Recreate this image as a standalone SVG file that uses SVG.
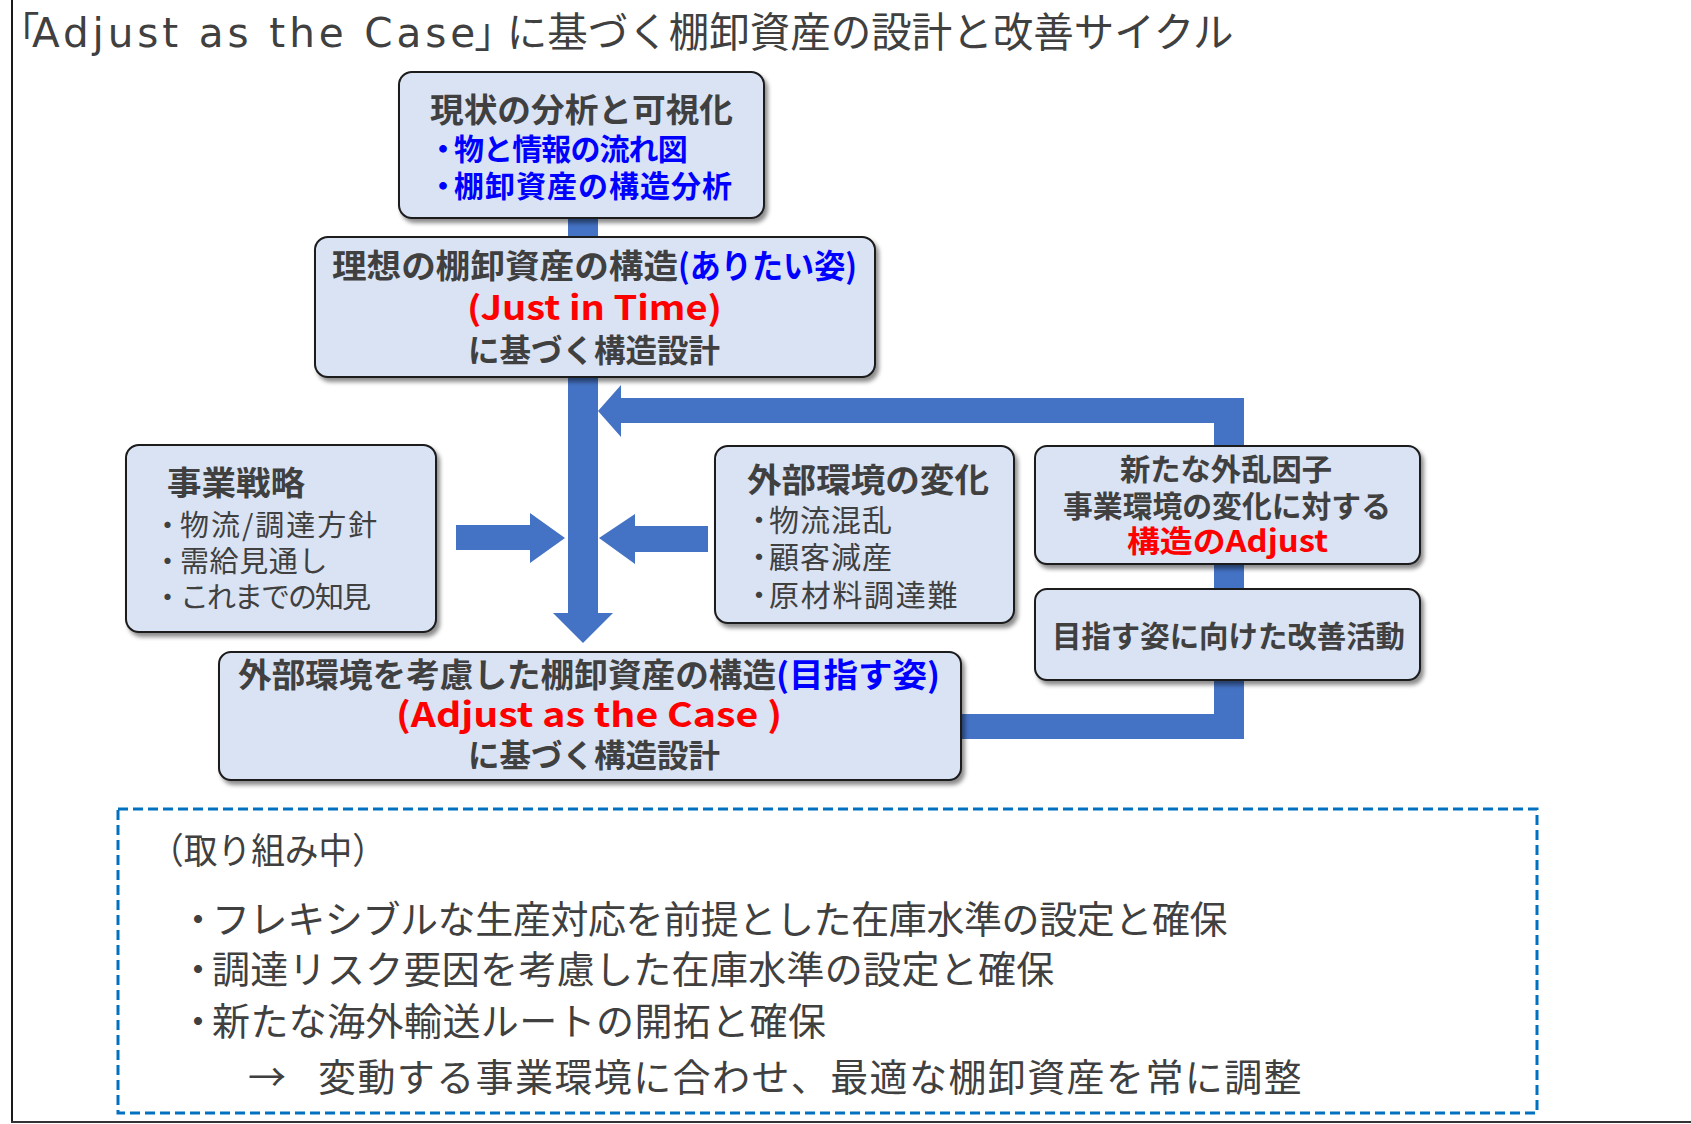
<svg xmlns="http://www.w3.org/2000/svg" width="1691" height="1124" viewBox="0 0 1691 1124">
<style>
  .box { fill: #DAE3F3; stroke: #1a1a1a; stroke-width: 2; filter: url(#sh); }
  .t { font-family: "Noto Sans CJK JP", "Noto Sans", sans-serif; fill: #404040; }
  .ttl { font-family: "DejaVu Sans", "Noto Sans CJK JP", sans-serif; fill: #404040; }
  .b { font-weight: bold; }
  .blue { fill: #0000FF; }
  .red { fill: #FF0000; }
  .bar { fill: #4472C4; }
</style>
<defs>
  <filter id="sh" x="-10%" y="-10%" width="125%" height="130%">
    <feDropShadow dx="3" dy="4" stdDeviation="2" flood-color="#000" flood-opacity="0.45"/>
  </filter>
</defs>
<rect x="0" y="0" width="1691" height="1124" fill="#fff"/>
<line x1="12" y1="0" x2="12" y2="1123" stroke="#1a1a1a" stroke-width="2"/>
<line x1="11" y1="1122" x2="1691" y2="1122" stroke="#333" stroke-width="2"/>

<text class="ttl" x="-1" y="47" font-size="40.5" dx="0 -7.5 3.9 3.9 3.9 3.9 3.9 3.9 3.9 3.9 3.9 3.9 3.9 3.9 3.9 3.9 3.9 3.9 3.9 -1 -8">「Adjust as the Case」に基づく棚卸資産の設計と改善サイクル</text>

<g id="connectors">
  <rect class="bar" x="568" y="215" width="30" height="25"/>
  <polygon class="bar" points="568,375 598,375 598,613 613,613 583,643 553,613 568,613"/>
  <polygon class="bar" points="955,714 1214,714 1214,423 621,423 621,437 598,411 621,385 621,398 1244,398 1244,739 955,739"/>
  <polygon class="bar" points="456,525 530,525 530,513 565,538 530,563 530,550 456,550"/>
  <polygon class="bar" points="708,526 635,526 635,514 599,538 635,564 635,552 708,552"/>
</g>

<g id="node-genjo">
  <rect class="box" x="399" y="72" width="365" height="146" rx="13"/>
  <text class="t b" x="430" y="122" font-size="33" textLength="303" lengthAdjust="spacingAndGlyphs">現状の分析と可視化</text>
  <text class="t b blue" x="428 454" y="160" font-size="30" letter-spacing="-0.9">・物と情報の流れ図</text>
  <text class="t b blue" x="428 454" y="197" font-size="30" letter-spacing="1">・棚卸資産の構造分析</text>
</g>

<g id="node-risou">
  <rect class="box" x="315" y="237" width="560" height="140" rx="13"/>
  <text class="t b" x="332" y="278" font-size="33" textLength="346" lengthAdjust="spacingAndGlyphs">理想の棚卸資産の構造</text>
  <text class="t b blue" x="678" y="278" font-size="33" textLength="179" lengthAdjust="spacingAndGlyphs">(ありたい姿)</text>
  <text class="t b red" x="467" y="320" font-size="33" textLength="255" lengthAdjust="spacingAndGlyphs">(Just in Time)</text>
  <text class="t b" x="468" y="362" font-size="32" textLength="252" lengthAdjust="spacingAndGlyphs">に基づく構造設計</text>
</g>

<g id="node-jigyo">
  <rect class="box" x="126" y="445" width="310" height="187" rx="13"/>
  <text class="t b" x="167" y="495" font-size="33" textLength="138" lengthAdjust="spacingAndGlyphs">事業戦略</text>
  <text class="t" x="153 180" y="536" font-size="29" letter-spacing="2">・物流/調達方針</text>
  <text class="t" x="153 180" y="572" font-size="29" letter-spacing="0.6">・需給見通し</text>
  <text class="t" x="153 180" y="608" font-size="29" letter-spacing="-2">・これまでの知見</text>
</g>

<g id="node-gaibu">
  <rect class="box" x="715" y="446" width="299" height="177" rx="13"/>
  <text class="t b" x="747" y="492" font-size="33" textLength="242" lengthAdjust="spacingAndGlyphs">外部環境の変化</text>
  <text class="t" x="744 769" y="531" font-size="30" letter-spacing="1">・物流混乱</text>
  <text class="t" x="744 769" y="568" font-size="30" letter-spacing="1">・顧客減産</text>
  <text class="t" x="744 769" y="606" font-size="30" letter-spacing="1.7">・原材料調達難</text>
</g>

<g id="node-gairan">
  <rect class="box" x="1035" y="446" width="385" height="118" rx="12"/>
  <text class="t b" x="1120" y="480" font-size="30" textLength="212" lengthAdjust="spacingAndGlyphs">新たな外乱因子</text>
  <text class="t b" x="1063" y="517" font-size="30" textLength="328" lengthAdjust="spacingAndGlyphs">事業環境の変化に対する</text>
  <text class="t b red" x="1127" y="552" font-size="30" textLength="201" lengthAdjust="spacingAndGlyphs">構造のAdjust</text>
</g>

<g id="node-kaizen">
  <rect class="box" x="1035" y="589" width="385" height="91" rx="12"/>
  <text class="t b" x="1052" y="647" font-size="30" textLength="353" lengthAdjust="spacingAndGlyphs">目指す姿に向けた改善活動</text>
</g>

<g id="node-mezasu">
  <rect class="box" x="219" y="652" width="742" height="128" rx="12"/>
  <text class="t b" x="238" y="687" font-size="33" textLength="538" lengthAdjust="spacingAndGlyphs">外部環境を考慮した棚卸資産の構造</text>
  <text class="t b blue" x="776" y="687" font-size="33" textLength="164" lengthAdjust="spacingAndGlyphs">(目指す姿)</text>
  <text class="t b red" x="396" y="727" font-size="34" textLength="386" lengthAdjust="spacingAndGlyphs">(Adjust as the Case )</text>
  <text class="t b" x="468" y="767" font-size="32" textLength="252" lengthAdjust="spacingAndGlyphs">に基づく構造設計</text>
</g>

<g id="note">
  <rect x="118" y="809" width="1419" height="304" fill="none" stroke="#0070C0" stroke-width="3" stroke-dasharray="10,5"/>
  <text class="t" x="150" y="864" font-size="36" textLength="236" lengthAdjust="spacingAndGlyphs">（取り組み中）</text>
  <text class="t" x="179 212" y="933" font-size="38" letter-spacing="-0.4">・フレキシブルな生産対応を前提とした在庫水準の設定と確保</text>
  <text class="t" x="179 212" y="983" font-size="38" letter-spacing="0.3">・調達リスク要因を考慮した在庫水準の設定と確保</text>
  <text class="t" x="179 212" y="1035" font-size="38" letter-spacing="0.4">・新たな海外輸送ルートの開拓と確保</text>
  <text class="t" x="248 290 318" y="1091" font-size="38" letter-spacing="1.4">→ 変動する事業環境に合わせ、最適な棚卸資産を常に調整</text>
</g>
</svg>
